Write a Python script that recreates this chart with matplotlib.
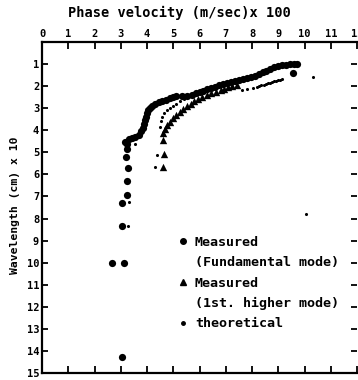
import matplotlib
matplotlib.use('Agg')
import matplotlib.pyplot as plt
from matplotlib.lines import Line2D

plt.rcParams['font.family'] = ['DejaVu Sans Mono']
plt.rcParams['font.weight'] = 'bold'

# Measured, fundamental mode  (phase velocity x100 m/s, wavelength x10 cm)
fund_v = [3.04, 2.65, 3.14, 3.04, 3.04, 3.22, 3.22, 3.26, 3.20, 3.22, 3.22,
          3.18, 3.30, 3.42, 3.55, 3.68, 3.78, 3.84, 3.88, 3.93, 3.97, 4.00,
          4.05, 4.10, 4.20, 4.32, 4.45, 4.58, 4.72, 4.86, 5.00, 5.12,
          5.32, 5.52,
          5.70, 5.85, 6.00, 6.15, 6.30, 6.45, 6.60, 6.75, 6.90, 7.05, 7.20,
          7.35, 7.50, 7.65, 7.80, 7.95, 8.10, 8.25, 8.40, 8.55, 8.70, 8.85,
          9.00, 9.15, 9.30, 9.45, 9.60, 9.72, 9.57]
fund_w = [14.26, 10.03, 10.03, 8.34, 7.28, 6.93, 6.30, 5.69, 5.20, 4.86, 4.60,
          4.52, 4.40, 4.36, 4.30, 4.22, 4.05, 3.88, 3.72, 3.55, 3.38, 3.22,
          3.08, 2.98, 2.88, 2.80, 2.74, 2.68, 2.62, 2.56, 2.50, 2.46,
          2.46, 2.44,
          2.40, 2.33, 2.26, 2.20, 2.14, 2.08, 2.02, 1.96, 1.91, 1.86, 1.80,
          1.75, 1.71, 1.66, 1.62, 1.58, 1.53, 1.46, 1.38, 1.30, 1.22, 1.15,
          1.10, 1.06, 1.03, 1.01, 1.00, 0.98, 1.39]

# Measured, 1st higher mode
high_v = [4.62, 4.65, 4.60, 4.62, 4.70, 4.78, 4.88, 5.00, 5.12, 5.25, 5.38,
          5.52, 5.66, 5.80, 5.95, 6.10, 6.27, 6.45, 6.62, 6.80, 6.95, 7.10,
          7.25, 7.42]
high_w = [5.65, 5.07, 4.44, 4.14, 3.95, 3.78, 3.62, 3.46, 3.30, 3.16, 3.03,
          2.90, 2.79, 2.68, 2.58, 2.49, 2.40, 2.32, 2.25, 2.18, 2.12, 2.06,
          2.00, 1.94]

# theoretical
theo_v = [3.30, 3.28, 3.54, 4.30, 4.37, 4.50, 4.53, 4.58, 4.65, 4.75, 4.88,
          5.00, 5.12, 5.26, 5.40, 5.55, 7.60, 7.80, 8.05, 8.20, 8.28, 8.36,
          8.44, 8.52, 8.60, 8.68, 8.76, 8.84, 8.92, 9.00, 9.08, 9.14, 10.31,
          10.06]
theo_w = [7.26, 8.34, 4.60, 5.67, 5.10, 3.84, 3.60, 3.40, 3.22, 3.08, 2.97,
          2.88, 2.80, 2.68, 2.58, 2.47, 2.17, 2.12, 2.08, 2.03, 2.00, 1.97,
          1.94, 1.91, 1.88, 1.85, 1.82, 1.79, 1.76, 1.74, 1.71, 1.69, 1.57,
          7.80]

xticks = list(range(0, 13))
yticks = list(range(1, 16))

fig = plt.figure(figsize=(3.58, 3.80), dpi=100)
ax = fig.add_axes([42/358, 7/380, 315/358, 331/380])

ax.scatter(fund_v, fund_w, s=27, c='k', marker='o', linewidths=0)
ax.scatter(high_v, high_w, s=28, c='k', marker='^', linewidths=0)
ax.scatter(theo_v, theo_w, s=5, c='k', marker='o', linewidths=0)

ax.set_xlim(0, 12)
ax.set_ylim(15, 0)
ax.set_xticks(xticks)
ax.set_yticks(yticks)
ax.tick_params(axis='x', top=True, bottom=True, labeltop=True, labelbottom=False,
               direction='in', length=5, width=1.3, labelsize=7.5, pad=2)
ax.tick_params(axis='y', left=True, right=True, labelleft=True, labelright=False,
               direction='in', length=4, width=1.3, labelsize=7.5, pad=2)
for lab in ax.get_xticklabels() + ax.get_yticklabels():
    lab.set_fontweight('bold')
ax.spines['right'].set_visible(False)
for s in ['left', 'bottom', 'top']:
    ax.spines[s].set_linewidth(1.6)

handles = [Line2D([], [], ls='none', marker='o', color='k', ms=4),
           Line2D([], [], ls='none'),
           Line2D([], [], ls='none', marker='^', color='k', ms=4),
           Line2D([], [], ls='none'),
           Line2D([], [], ls='none', marker='o', color='k', ms=2.5)]
labels = ['Measured', '(Fundamental mode)', 'Measured', '(1st. higher mode)', 'theoretical']
leg = ax.legend(handles, labels, loc='upper left', bbox_to_anchor=(0.413, 0.43),
                frameon=False, prop={'family': 'DejaVu Sans Mono', 'weight': 'bold', 'size': 9.6},
                handlelength=0.8, handletextpad=0.5, labelspacing=0.55, borderaxespad=0)

fig.text(179/358, 1 - 13/380, 'Phase velocity (m/sec)x 100', ha='center', va='center',
         fontsize=9.8, fontweight='bold')
fig.text(15/358, 1 - 205/380, 'Wavelength (cm) x 10', ha='center', va='center',
         rotation=90, fontsize=8.2, fontweight='bold')

fig.savefig('out.png', dpi=100)
